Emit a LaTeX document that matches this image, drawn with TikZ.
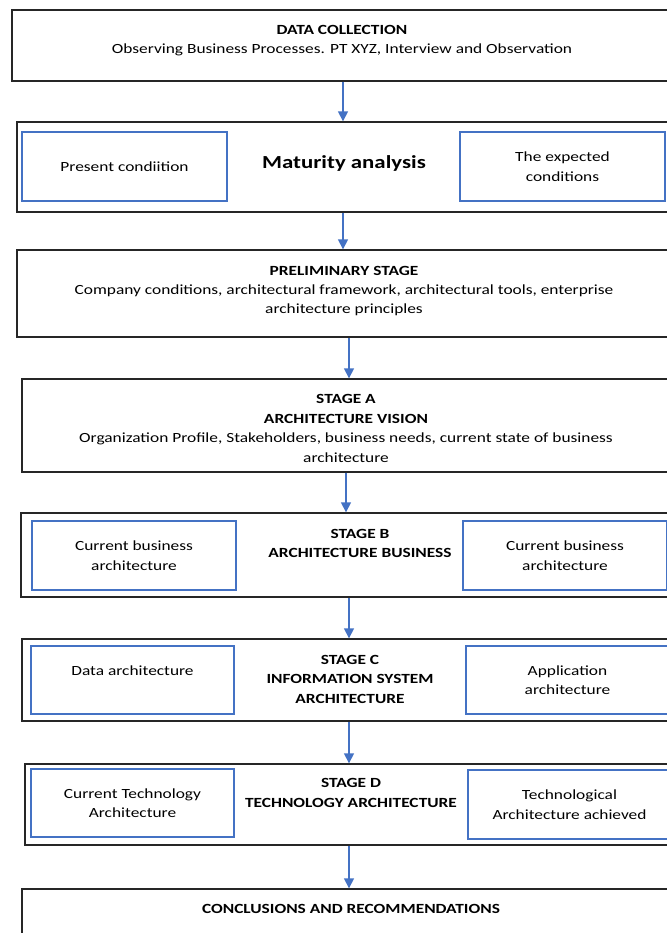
\documentclass[tikz,border=0pt]{standalone}
\usepackage{fontspec}
\setmainfont{Carlito}[FakeStretch=1.24]
\usepackage{tikz}
\usetikzlibrary{arrows.meta}
\definecolor{flowblue}{HTML}{4472C4}
\def\fs{\fontsize{10.5}{14.6}\selectfont}
\tikzset{stage box/.style 2 args={draw=black!85,line width=1pt,rectangle,inner sep=0,
    minimum width=#1*0.75pt,minimum height=#2*0.75pt},
  sub box/.style 2 args={draw=flowblue,line width=1.7pt,rectangle,inner sep=1pt,align=center,
    font=\fs,minimum width=#1*0.75pt,minimum height=#2*0.75pt},
  stage label/.style={align=center,inner sep=0,font=\fs},
  flow arrow/.style={draw=flowblue,line width=1pt,-{Triangle[width=7.5pt,length=7.5pt]}}}

\begin{document}
\begin{tikzpicture}[x=0.75pt,y=-0.75pt]

  \useasboundingbox (0,0) rectangle (667,933);
  \clip (0,0) rectangle (667,933);
  \fill[white] (0,0) rectangle (667,933);

  %外枠
  \node[stage box={662}{71}] (dc) at (343, 45.5) {};
  \node[stage box={652}{90}] (ma) at (343, 167) {};
  \node[stage box={664}{87}] (pre) at (349, 293.5) {};
  \node[stage box={648}{93}] (sa) at (346, 425.5) {};
  \node[stage box={656}{84}] (sb) at (349, 555) {};
  \node[stage box={654}{82}] (sc) at (349, 680) {};
  \node[stage box={648}{81}] (sd) at (349, 804.5) {};
  \node[stage box={654}{71}] (cr) at (349, 924.5) {};

  %内枠
  \node[sub box={205}{69}] (pc) at (124.5, 166.5) {Present condiition};
  \node[sub box={205}{69}] (ec) at (562.5, 166.5) {The expected\\conditions};
  \node[sub box={204}{69}] (sbl) at (134, 555.5) {Current business\\architecture};
  \node[sub box={204}{69}] (sbr) at (565, 555.5) {Current business\\architecture};
  \node[sub box={203}{68}] (scl) at (132.5, 680) {Data architecture\\~};
  \node[sub box={203}{68}] (scr) at (567.5, 680) {Application\\architecture};
  \node[sub box={203}{68}] (sdl) at (132.5, 803) {Current Technology\\Architecture};
  \node[sub box={203}{69}] (sdr) at (569.5, 804.5) {Technological\\Architecture achieved};

  %ラベル
  \node[stage label] (dct) at (342, 40.5) {\textbf{DATA COLLECTION}\\
    Observing Business Processes. PT XYZ, Interview and Observation};
  \node[stage label, font=\fontsize{13.8}{16}\selectfont\bfseries] (mat) at (344, 163.5) {Maturity analysis};
  \node[stage label] (pret) at (344, 291) {\textbf{PRELIMINARY STAGE}\\
    Company conditions, architectural framework, architectural tools, enterprise\\
    architecture principles};
  \node[stage label] (sat) at (346, 428.5) {\textbf{STAGE A}\\\textbf{ARCHITECTURE VISION}\\
    Organization Profile, Stakeholders, business needs, current state of business\\
    architecture};
  \node[stage label, font=\fs\bfseries] (sbt) at (360, 543.5) {STAGE B\\ARCHITECTURE BUSINESS};
  \node[stage label, font=\fs\bfseries] (sct) at (350, 679) {STAGE C\\INFORMATION SYSTEM\\ARCHITECTURE};
  \node[stage label, font=\fs\bfseries] (sdt) at (351, 793) {STAGE D\\TECHNOLOGY ARCHITECTURE};
  \node[stage label, font=\fs\bfseries] (crt) at (351, 908.5) {CONCLUSIONS AND RECOMMENDATIONS};

  %矢印
  \draw[flow arrow] (dc.south) -- (ma.north);
  \draw[flow arrow] (ma.south) -- (pre.north -| ma.south);
  \draw[flow arrow] (pre.south) -- (sa.north -| pre.south);
  \draw[flow arrow] (sa.south) -- (sb.north -| sa.south);
  \draw[flow arrow] (sb.south) -- (sc.north);
  \draw[flow arrow] (sc.south) -- (sd.north);
  \draw[flow arrow] (sd.south) -- (cr.north);

\end{tikzpicture}
\end{document}
